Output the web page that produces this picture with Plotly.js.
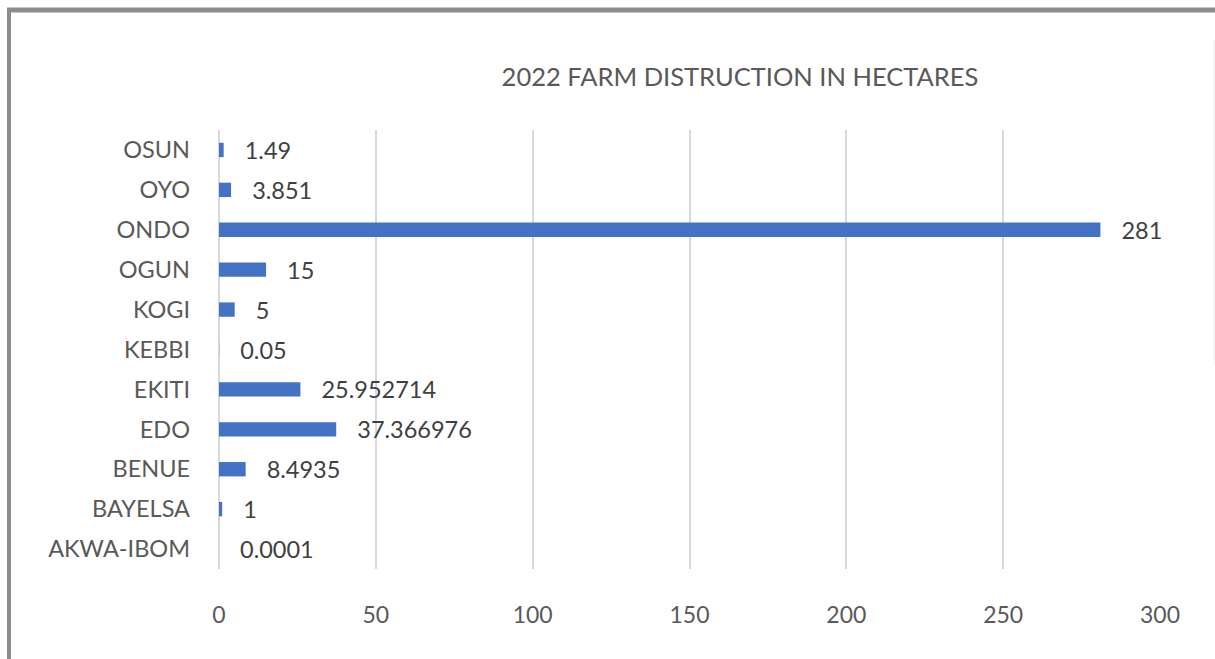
<!DOCTYPE html>
<html>
<head>
<meta charset="utf-8">
<script src="https://cdn.plot.ly/plotly-3.0.1.min.js"></script>
<style>
html,body{margin:0;padding:0;background:#fff;}
#chart{width:1215px;height:659px;}
</style>
</head>
<body>
<div id="chart"></div>
<script>
const categories = ["AKWA-IBOM","BAYELSA","BENUE","EDO","EKITI","KEBBI","KOGI","OGUN","ONDO","OYO","OSUN"];
const values = [0.0001, 1, 8.4935, 37.366976, 25.952714, 0.05, 5, 15, 281, 3.851, 1.49];
const xTicks = [0, 50, 100, 150, 200, 250, 300];
const chartTitle = "2022 FARM DISTRUCTION IN HECTARES";

const FONT = "Lato, 'Noto Sans', sans-serif";
const W = 1215, H = 659;
const mL = 219, mR = 55, mT = 130, mB = 90;
const pw = W - mL - mR, ph = H - mT - mB;
const px = v => (v - mL) / pw;
const py = v => (H - mB - v) / ph;

const trace = {
  type: "bar",
  orientation: "h",
  y: categories,
  x: values,
  width: 0.36,
  marker: {color: "#4472C4"},
  text: values.map(v => "\u00a0\u00a0\u00a0" + String(v)),
  textposition: "outside",
  constraintext: "none",
  textfont: {family: FONT, size: 23.5, color: "#404040"},
  outsidetextfont: {family: FONT, size: 23.5, color: "#404040"},
  cliponaxis: false,
  hoverinfo: "x+y"
};

const layout = {
  width: W, height: H,
  margin: {l: mL, r: mR, t: mT, b: mB, pad: 0},
  paper_bgcolor: "#ffffff",
  plot_bgcolor: "#ffffff",
  showlegend: false,
  font: {family: FONT, color: "#595959"},
  title: {
    text: chartTitle,
    font: {family: FONT, size: 25.5, color: "#595959"},
    xref: "container", yref: "container",
    x: 740 / W, xanchor: "center",
    y: 1 - 77 / H, yanchor: "middle"
  },
  xaxis: {
    range: [0, 300],
    tickvals: xTicks,
    ticktext: xTicks.map(String),
    showgrid: true,
    gridcolor: "#d9d9d9",
    gridwidth: 2,
    zeroline: true,
    zerolinecolor: "#d9d9d9",
    zerolinewidth: 2,
    showline: false,
    ticks: "",
    ticklabelstandoff: 30,
    tickfont: {family: FONT, size: 23, color: "#595959"},
    fixedrange: true
  },
  yaxis: {
    type: "category",
    showgrid: false,
    zeroline: false,
    showline: false,
    ticks: "",
    ticklabelstandoff: 28,
    tickfont: {family: FONT, size: 23.5, color: "#595959"},
    fixedrange: true
  },
  shapes: [
    {type: "line", xref: "paper", yref: "paper",
     x0: px(9), x1: px(9), y0: py(9), y1: py(H + 10),
     line: {color: "#8c8c8c", width: 4}},
    {type: "line", xref: "paper", yref: "paper",
     x0: px(7), x1: px(W + 10), y0: py(10), y1: py(10),
     line: {color: "#8c8c8c", width: 5}},
    {type: "line", xref: "paper", yref: "paper",
     x0: px(1214), x1: px(1214), y0: py(40), y1: py(365),
     line: {color: "#ebebeb", width: 1}}
  ]
};

Plotly.newPlot("chart", [trace], layout, {displayModeBar: false, staticPlot: true});
</script>
</body>
</html>
